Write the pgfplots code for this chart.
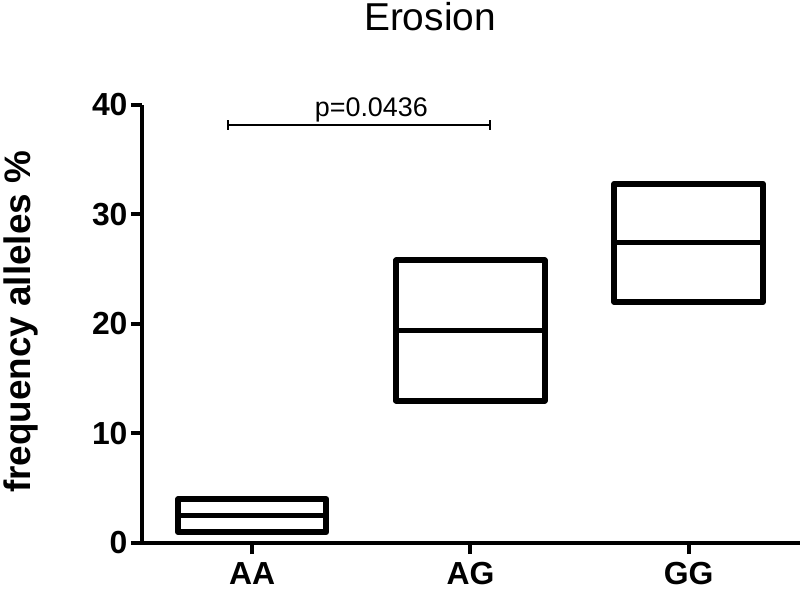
\documentclass[border=0pt]{standalone}
\usepackage{fontspec}
\setmainfont{Liberation Sans}
\usepackage{pgfplots}
\pgfplotsset{compat=1.18}

\begin{document}
\begin{tikzpicture}
% page frame: 800 x 591, axis box starts at (142,543) from top-left
\path[use as bounding box] (-142bp,-48bp) rectangle (658bp,543bp);
\begin{axis}[
    scale only axis,
    width=658bp, height=438bp,
    xmin=-0.505, xmax=2.51,
    ymin=0, ymax=40,
    axis lines*=left,
    axis line style={line width=4bp},
    xtick={0,1,2},
    xticklabels={AA,AG,GG},
    ytick={0,10,20,30,40},
    tick align=outside,
    major tick length=11bp,
    tick style={line width=4bp, black},
    /pgf/number format/assume math mode=true,
    ticklabel style={font=\fontsize{32}{32}\selectfont\bfseries},
    xticklabel style={yshift=-5bp},
    ylabel={frequency alleles \%},
    ylabel style={at={(axis description cs:-0.184,0.505)}, anchor=center,
        font=\fontsize{37}{37}\selectfont\bfseries},
    title={Erosion},
    title style={at={(rel axis cs:0.4377,1.1575)}, anchor=base, inner sep=0pt,
        font=\fontsize{39}{39}\selectfont},
    clip=false,
]
% boxes: min, max and median line
% AA
\addplot[black, line width=6bp, line join=round]
    coordinates {(-0.34,1) (0.34,1) (0.34,4) (-0.34,4)} -- cycle;
\addplot[black, line width=5bp] coordinates {(-0.34,2.5) (0.34,2.5)};
% AG
\addplot[black, line width=6bp, line join=round]
    coordinates {(0.66,13) (1.34,13) (1.34,25.8) (0.66,25.8)} -- cycle;
\addplot[black, line width=5bp] coordinates {(0.66,19.4) (1.34,19.4)};
% GG
\addplot[black, line width=6bp, line join=round]
    coordinates {(1.66,22) (2.34,22) (2.34,32.8) (1.66,32.8)} -- cycle;
\addplot[black, line width=5bp] coordinates {(1.66,27.4) (2.34,27.4)};

% significance bracket
\addplot[black, line width=2bp] coordinates {(-0.11,38.2) (1.09,38.2)};
\addplot[black, line width=2bp] coordinates {(-0.11,37.75) (-0.11,38.65)};
\addplot[black, line width=2bp] coordinates {(1.09,37.75) (1.09,38.65)};
\node[anchor=base, font=\fontsize{27}{27}\selectfont] at (axis cs:0.546,38.96) {p=0.0436};
\end{axis}
\end{tikzpicture}
\end{document}
